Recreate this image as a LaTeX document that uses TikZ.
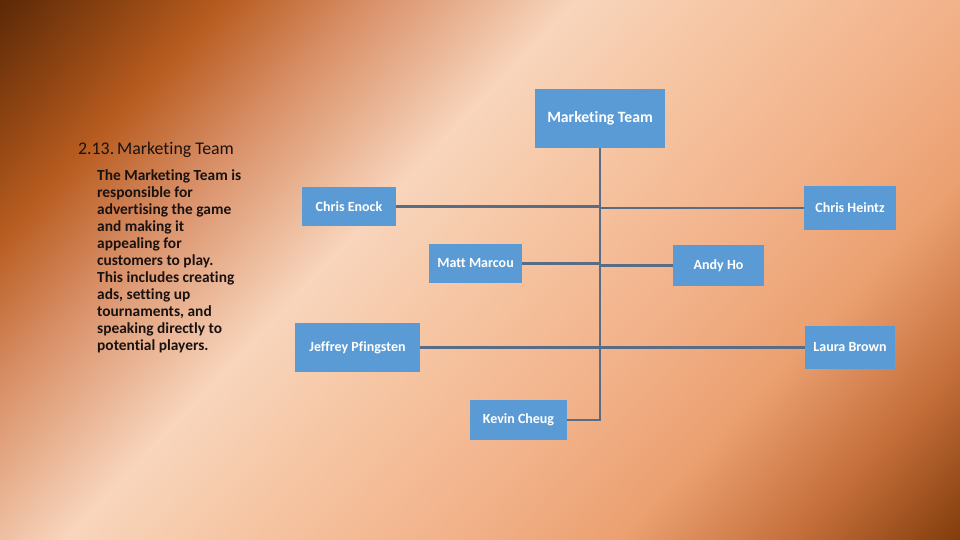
\documentclass[tikz,border=0pt]{standalone}
\usepackage{fontspec}
\setmainfont{Carlito}[Ligatures=NoCommon]
\definecolor{bgA}{HTML}{5E2A08}
\definecolor{bgB}{HTML}{8E4412}
\definecolor{bgC}{HTML}{B85C20}
\definecolor{bgD}{HTML}{D99068}
\definecolor{bgE}{HTML}{F8D5BC}
\definecolor{bgF}{HTML}{F6C6A4}
\definecolor{bgG}{HTML}{F2B28A}
\definecolor{bgH}{HTML}{EBA070}
\definecolor{bgI}{HTML}{C46E3A}
\definecolor{bgJ}{HTML}{843E0C}
\definecolor{boxblue}{HTML}{5B9BD5}
\definecolor{linkcol}{RGB}{88,108,134}
\definecolor{textcol}{HTML}{1A1210}
\pgfdeclarehorizontalshading{bgshade}{100bp}{color(0bp)=(bgA); color(25.8bp)=(bgA); color(29.7bp)=(bgB); color(33.1bp)=(bgC); color(37.9bp)=(bgD); color(44.7bp)=(bgE); color(50bp)=(bgF); color(57.3bp)=(bgG); color(63.1bp)=(bgH); color(68.9bp)=(bgI); color(74.2bp)=(bgJ); color(100bp)=(bgJ)}
\begin{document}
\begin{tikzpicture}[x=1pt,y=-1pt,
  person/.style={fill=boxblue, draw=none, inner sep=0pt, text=white,
    font=\bfseries\fontsize{14}{16}\selectfont, align=center},
  link/.style={draw=linkcol, line width=2.6pt}]
\useasboundingbox (0,0) rectangle (960,540);
\begin{scope}
\clip (0,0) rectangle (960,540);
\shade[shading=bgshade, shading angle=-43.5] (-71,-281) rectangle (1031,821);
\end{scope}
% heading and text
\node[anchor=base west, inner sep=0pt, text=textcol, font=\fontsize{17.8}{20}\selectfont] (head) at (78,155) {2.13.\,Marketing Team};
\node[anchor=north west, inner sep=0pt, align=left, text=textcol, font=\bfseries\fontsize{15.4}{17}\selectfont] (body) at (97,169.5)
 {The Marketing Team is\\responsible for\\advertising the game\\and making it\\appealing for\\customers to play.\\This includes creating\\ads, setting up\\tournaments, and\\speaking directly to\\potential players.};
% boxes
\node[person, minimum width=130pt, minimum height=59pt, font=\bfseries\fontsize{15.7}{18}\selectfont] (mt) at (600,118.5) {Marketing Team};
\node[person, minimum width=94pt, minimum height=39pt] (ce) at (349,206.5) {Chris Enock};
\node[person, minimum width=92pt, minimum height=44pt] (ch) at (850,208) {Chris Heintz};
\node[person, minimum width=93pt, minimum height=39pt] (mm) at (475.5,263.5) {Matt Marcou};
\node[person, minimum width=91pt, minimum height=41pt] (ah) at (718.5,265.5) {Andy Ho};
\node[person, minimum width=125pt, minimum height=49pt] (jp) at (357.5,347.5) {Jeffrey Pfingsten};
\node[person, minimum width=90pt, minimum height=43pt] (lb) at (850,347.5) {Laura Brown};
\node[person, minimum width=97pt, minimum height=40pt] (kc) at (518.5,420) {Kevin Cheug};
% connectors
\draw[link] (mt.south) |- (kc.east);
\draw[link] (ce.east) -- (ce.east -| mt.south);
\draw[link] (ch.west) -- (ch.west -| mt.south);
\draw[link] (mm.east) -- (mm.east -| mt.south);
\draw[link] (ah.west) -- (ah.west -| mt.south);
\draw[link] (jp.east) -- (jp.east -| mt.south);
\draw[link] (lb.west) -- (lb.west -| mt.south);
\end{tikzpicture}
\end{document}
